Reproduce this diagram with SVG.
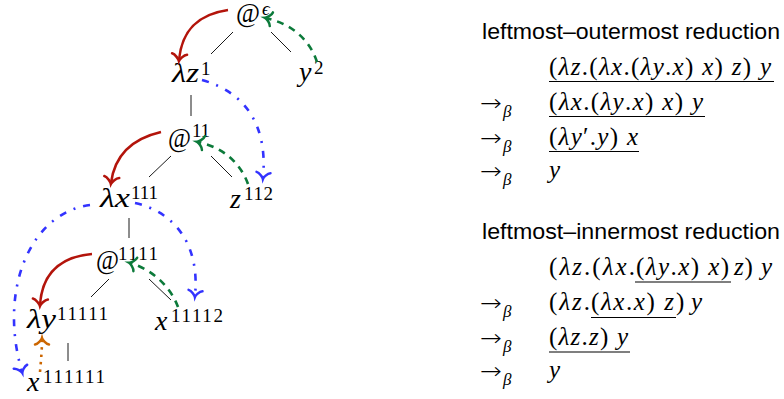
<svg xmlns="http://www.w3.org/2000/svg" width="784" height="399" viewBox="0 0 784 399">
<style>
.m{font-family:"Liberation Serif","DejaVu Serif",serif;font-size:25px;fill:#000}
.n{font-family:"Liberation Serif","DejaVu Serif",serif;font-size:28px;fill:#000}
.i{font-style:italic}
.s{font-family:"Liberation Serif","DejaVu Serif",serif;font-size:19px;fill:#000}
.b{font-family:"Liberation Serif","DejaVu Serif",serif;font-size:17px;font-style:italic;fill:#000}
.a{font-family:"DejaVu Sans",sans-serif;font-size:23px;font-weight:200;fill:#000}
.t{font-family:"Liberation Sans",Arial,sans-serif;font-size:22px;fill:#000}
.e{stroke:#000;stroke-width:0.9;fill:none}
.ul{stroke:#000;stroke-width:1.1}
.red{stroke:#b3140b;stroke-width:2.6;fill:none;marker-end:url(#ar)}
.grn{stroke:#0c7a3a;stroke-width:2.6;fill:none;stroke-dasharray:7 6;marker-end:url(#ag)}
.blu{stroke:#3333ff;stroke-width:2.6;fill:none;stroke-dasharray:7 8 2 8;marker-end:url(#ab)}
.org{stroke:#cc6600;stroke-width:2.6;fill:none;stroke-dasharray:2.5 5;marker-end:url(#ao)}
</style>
<defs>
<marker id="ar" markerUnits="userSpaceOnUse" orient="auto" refX="0" refY="0" markerWidth="20" markerHeight="20" viewBox="-10 -10 20 20" overflow="visible"><path d="M-6,-7.5 C-5.5,-4.2 -0.5,-0.5 1,0 C-0.5,0.5 -5.5,4.2 -6,7.5" fill="none" stroke="#b3140b" stroke-width="2.6" stroke-linecap="round"/></marker>
<marker id="ag" markerUnits="userSpaceOnUse" orient="auto" refX="0" refY="0" markerWidth="20" markerHeight="20" viewBox="-10 -10 20 20" overflow="visible"><path d="M-5.5,-7 C-5,-3.8 -0.5,-0.4 1,0 C-0.5,0.4 -5,3.8 -5.5,7" fill="none" stroke="#0c7a3a" stroke-width="2.5" stroke-linecap="round"/></marker>
<marker id="ab" markerUnits="userSpaceOnUse" orient="auto" refX="0" refY="0" markerWidth="20" markerHeight="20" viewBox="-10 -10 20 20" overflow="visible"><path d="M-5.5,-7 C-5,-3.8 -0.5,-0.4 1,0 C-0.5,0.4 -5,3.8 -5.5,7" fill="none" stroke="#3333ff" stroke-width="2.5" stroke-linecap="round"/></marker>
<marker id="ao" markerUnits="userSpaceOnUse" orient="auto" refX="0" refY="0" markerWidth="20" markerHeight="20" viewBox="-10 -10 20 20" overflow="visible"><path d="M-5.5,-7 C-5,-3.8 -0.5,-0.4 1,0 C-0.5,0.4 -5,3.8 -5.5,7" fill="none" stroke="#cc6600" stroke-width="2.5" stroke-linecap="round"/></marker>
</defs>

<g id="edges">
<line class="e" x1="233" y1="32" x2="211" y2="54"/>
<line class="e" x1="271" y1="32" x2="291" y2="52"/>
<line class="e" x1="191" y1="95" x2="191" y2="116"/>
<line class="e" x1="171" y1="156" x2="149" y2="177"/>
<line class="e" x1="211" y1="156" x2="232" y2="177"/>
<line class="e" x1="129" y1="218" x2="129" y2="238"/>
<line class="e" x1="109" y1="279" x2="91" y2="297"/>
<line class="e" x1="149" y1="279" x2="171" y2="300"/>
<line class="e" x1="68" y1="343" x2="68" y2="361"/>
</g>

<g id="n-eps"><text class="n" x="236" y="22" font-size="26" textLength="24" lengthAdjust="spacingAndGlyphs">@</text><text class="s i" x="262" y="15">ϵ</text></g>
<g id="n-1"><text class="n i" x="172" y="82" textLength="27" lengthAdjust="spacingAndGlyphs">λz</text><text class="s" x="201" y="75">1</text></g>
<g id="n-2"><text class="n i" x="299" y="81">y</text><text class="s" x="314" y="74">2</text></g>
<g id="n-11"><text class="n" x="168" y="147" font-size="27" textLength="23" lengthAdjust="spacingAndGlyphs">@</text><text class="s" x="192" y="137" textLength="18">11</text></g>
<g id="n-111"><text class="n i" x="100" y="207" textLength="30" lengthAdjust="spacingAndGlyphs">λx</text><text class="s" x="131" y="199" textLength="27">111</text></g>
<g id="n-112"><text class="n i" x="230" y="208">z</text><text class="s" x="244" y="200" textLength="29">112</text></g>
<g id="n-1111"><text class="n" x="96" y="269" font-size="27" textLength="23" lengthAdjust="spacingAndGlyphs">@</text><text class="s" x="118" y="260" textLength="40">1111</text></g>
<g id="n-11111"><text class="n i" x="27" y="328" textLength="29" lengthAdjust="spacingAndGlyphs">λy</text><text class="s" x="57" y="320" textLength="51">11111</text></g>
<g id="n-11112"><text class="n i" x="155" y="330">x</text><text class="s" x="171" y="322" textLength="52">11112</text></g>
<g id="n-111111"><text class="n i" x="27" y="391">x</text><text class="s" x="43" y="383" textLength="62">111111</text></g>

<g id="connectors">
<path class="red" d="M228,10 C200,14 182,28 179,60"/>
<path class="red" d="M161,132 C135,138 115,152 111,183"/>
<path class="red" d="M92,254 C60,257 42,274 40,305"/>
<path class="grn" d="M317,62 C310,40 292,24 266,18"/>
<path class="grn" d="M248,184 C240,162 222,147 198,142"/>
<path class="grn" d="M178,307 C172,290 155,270 130,263"/>
<path class="blu" d="M202,80 C245,92 268,125 263,178"/>
<path class="blu" d="M90,205 C30,213 -2,290 22,372"/>
<path class="blu" d="M135,203 C175,212 200,245 195,296"/>
<path class="org" d="M40,372 C41,360 42,350 42,339"/>
</g>

<g id="outermost">
<text class="t" x="482" y="39" textLength="298" lengthAdjust="spacingAndGlyphs">leftmost–outermost reduction</text>
<text class="m" x="549" y="75" textLength="222">(<tspan class="i">λz</tspan>.(<tspan class="i">λx</tspan>.(<tspan class="i">λy</tspan>.<tspan class="i">x</tspan>) <tspan class="i">x</tspan>) <tspan class="i">z</tspan>) <tspan class="i">y</tspan></text>
<line class="ul" x1="549" y1="81.5" x2="774" y2="81.5"/>
<text class="a" x="480" y="111" textLength="22" lengthAdjust="spacingAndGlyphs">→</text><text class="b" x="503" y="117">β</text>
<text class="m" x="549" y="110" textLength="154">(<tspan class="i">λx</tspan>.(<tspan class="i">λy</tspan>.<tspan class="i">x</tspan>) <tspan class="i">x</tspan>) <tspan class="i">y</tspan></text>
<line class="ul" x1="549" y1="116.5" x2="705" y2="116.5"/>
<text class="a" x="480" y="146" textLength="22" lengthAdjust="spacingAndGlyphs">→</text><text class="b" x="503" y="152">β</text>
<text class="m" x="549" y="145" textLength="89">(<tspan class="i">λy</tspan>′.<tspan class="i">y</tspan>) <tspan class="i">x</tspan></text>
<line class="ul" x1="549" y1="151.5" x2="639" y2="151.5"/>
<text class="a" x="480" y="179" textLength="22" lengthAdjust="spacingAndGlyphs">→</text><text class="b" x="503" y="185">β</text>
<text class="m i" x="549" y="178">y</text>
</g>

<g id="innermost">
<text class="t" x="482" y="239" textLength="298" lengthAdjust="spacingAndGlyphs">leftmost–innermost reduction</text>
<text class="m" x="549" y="275" textLength="86">(<tspan class="i">λz</tspan>.(<tspan class="i">λx</tspan>.</text>
<text class="m" x="636" y="275" textLength="93">(<tspan class="i">λy</tspan>.<tspan class="i">x</tspan>) <tspan class="i">x</tspan>)</text>
<text class="m" x="734" y="275" textLength="38"><tspan class="i">z</tspan>) <tspan class="i">y</tspan></text>
<line class="ul" x1="635" y1="282" x2="731" y2="282"/>
<text class="a" x="480" y="311" textLength="22" lengthAdjust="spacingAndGlyphs">→</text><text class="b" x="503" y="317">β</text>
<text class="m" x="549" y="310" textLength="41">(<tspan class="i">λz</tspan>.</text>
<text class="m" x="591" y="310" textLength="83">(<tspan class="i">λx</tspan>.<tspan class="i">x</tspan>) <tspan class="i">z</tspan></text>
<text class="m" x="676" y="310" textLength="26">) <tspan class="i">y</tspan></text>
<line class="ul" x1="591" y1="317.5" x2="676" y2="317.5"/>
<text class="a" x="480" y="346" textLength="22" lengthAdjust="spacingAndGlyphs">→</text><text class="b" x="503" y="352">β</text>
<text class="m" x="549" y="345" textLength="79">(<tspan class="i">λz</tspan>.<tspan class="i">z</tspan>) <tspan class="i">y</tspan></text>
<line class="ul" x1="549" y1="352" x2="630" y2="352"/>
<text class="a" x="480" y="379" textLength="22" lengthAdjust="spacingAndGlyphs">→</text><text class="b" x="503" y="385">β</text>
<text class="m i" x="549" y="378">y</text>
</g>
</svg>
